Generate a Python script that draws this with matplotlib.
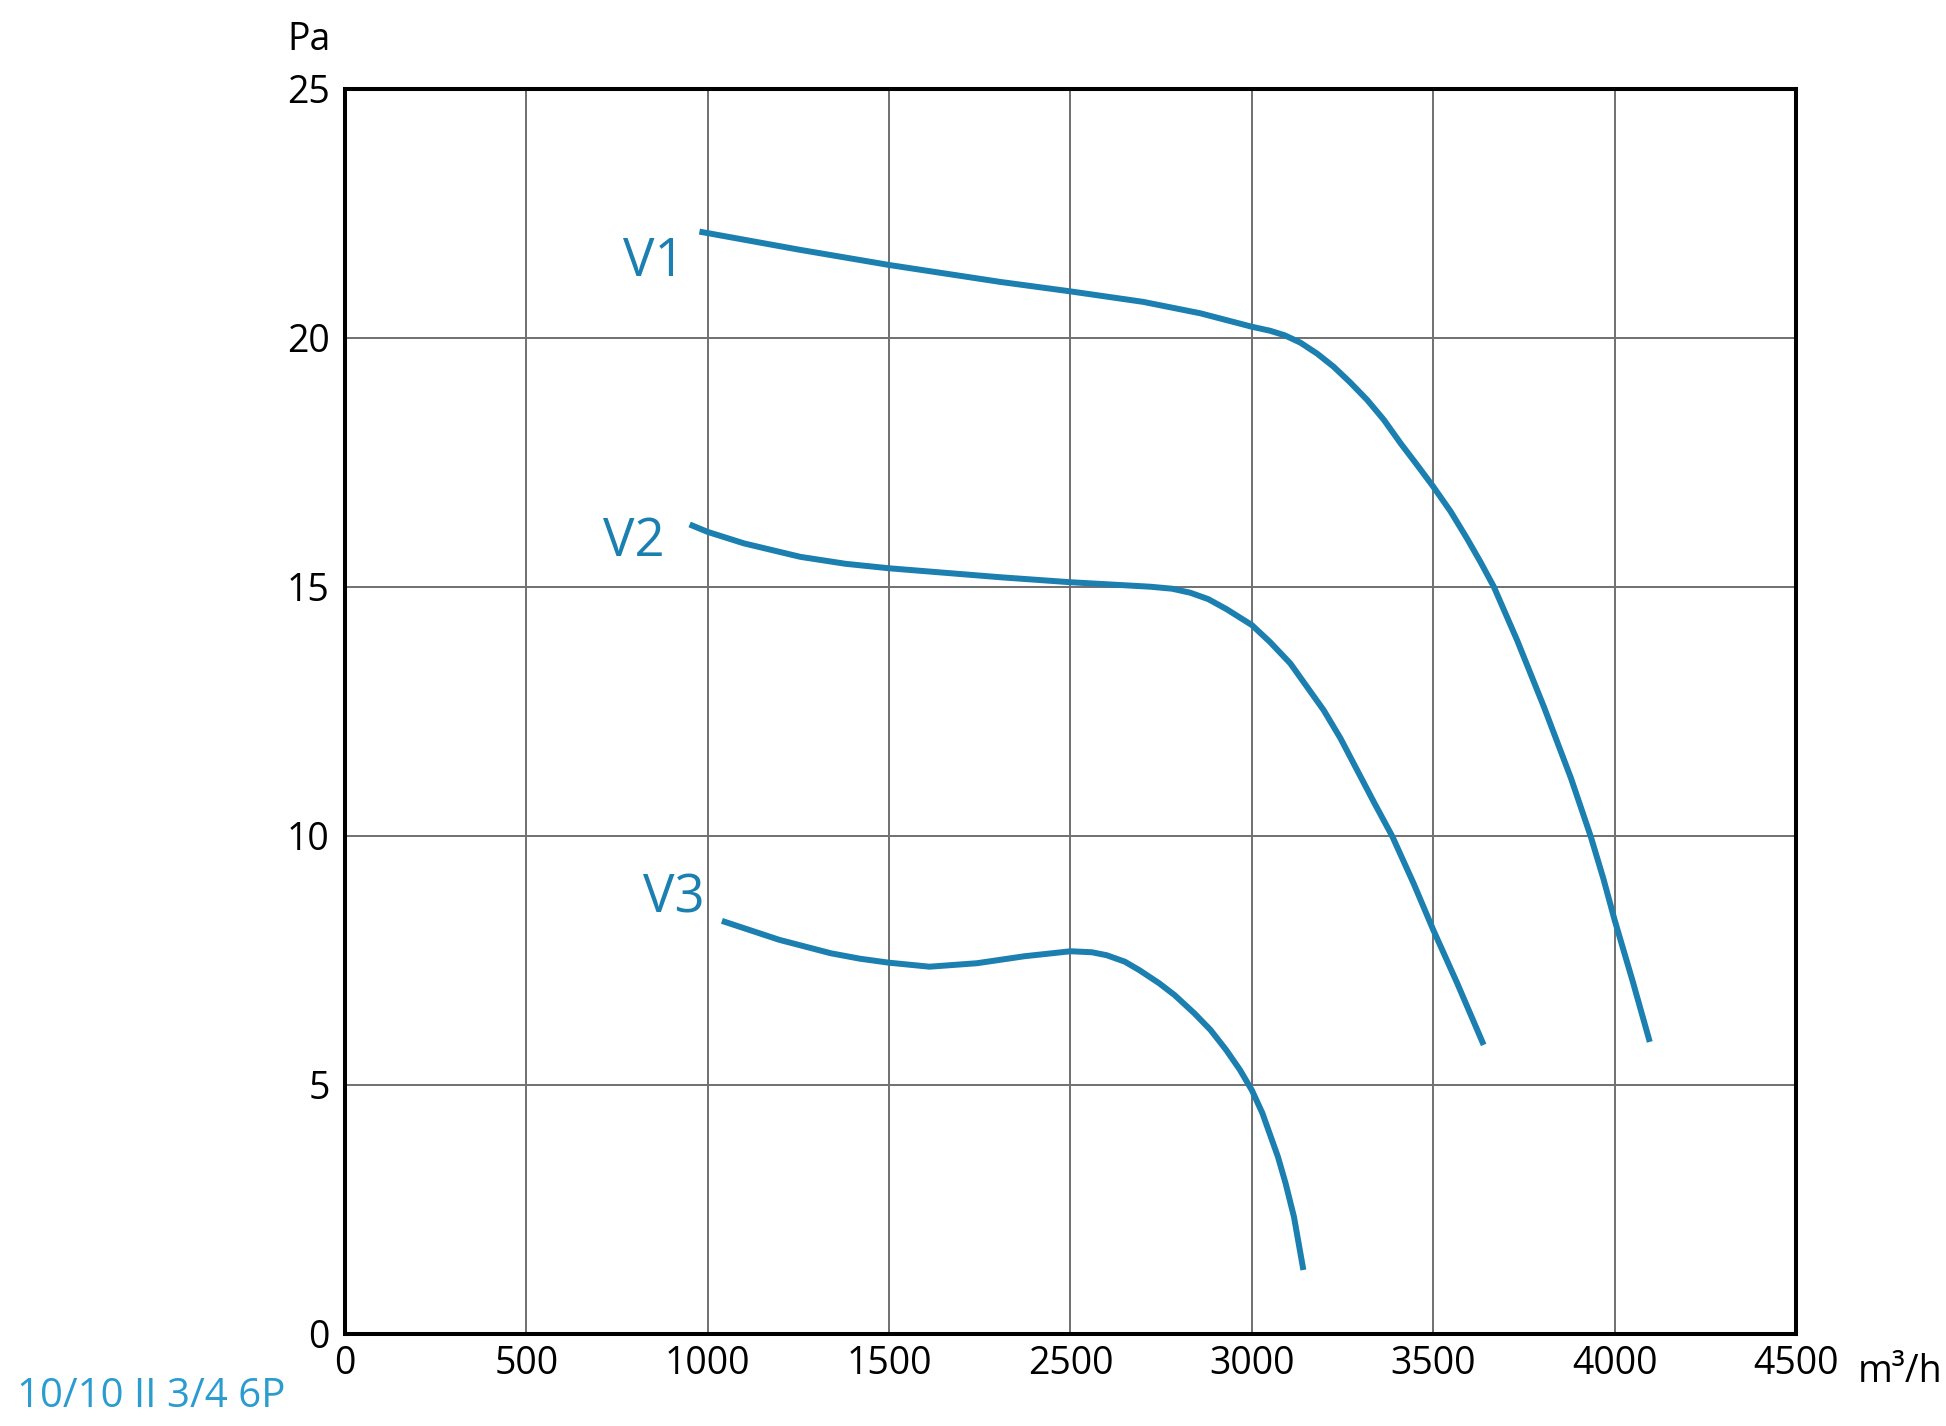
import matplotlib
matplotlib.use("Agg")
import matplotlib.pyplot as plt
import numpy as np

# ── data ───────────────────────────────────────────────────────────────────────
# the printed x labels skip 2000, so the grid is evenly spaced by label index
X_TICKS = [0, 500, 1000, 1500, 2500, 3000, 3500, 4000, 4500]
Y_TICKS = [0, 5, 10, 15, 20, 25]

v1_x = [977, 1000, 1250, 1500, 2113, 2500, 2700, 2858, 3000, 3050, 3090, 3134,
        3180, 3225, 3270, 3318, 3364, 3410, 3456, 3500, 3548, 3593, 3630, 3667,
        3731, 3768, 3805, 3880, 3934, 3969, 4000, 4049, 4097]
v1_y = [22.13, 22.10, 21.77, 21.46, 21.12, 20.93, 20.72, 20.49, 20.22, 20.14,
        20.05, 19.90, 19.68, 19.42, 19.11, 18.75, 18.35, 17.88, 17.44, 17.01,
        16.51, 15.97, 15.50, 15.00, 13.93, 13.26, 12.59, 11.15, 9.99, 9.14,
        8.31, 7.10, 5.86]

v2_x = [950, 1000, 1100, 1255, 1380, 1500, 2113, 2500, 2720, 2780, 2830, 2880,
        2930, 3000, 3050, 3106, 3152, 3198, 3244, 3290, 3336, 3387, 3446, 3500,
        3566, 3639]
v2_y = [16.25, 16.10, 15.87, 15.60, 15.46, 15.37, 15.19, 15.09, 15.00, 14.96,
        14.88, 14.75, 14.55, 14.23, 13.89, 13.46, 12.99, 12.52, 11.96, 11.32,
        10.68, 9.99, 9.04, 8.11, 7.04, 5.80]

v3_x = [1039, 1197, 1339, 1420, 1500, 1723, 1985, 2246, 2500, 2559, 2600, 2650,
        2690, 2744, 2787, 2842, 2886, 2929, 2967, 3000, 3029, 3049, 3072, 3093,
        3116, 3142]
v3_y = [8.29, 7.91, 7.64, 7.53, 7.45, 7.37, 7.44, 7.58, 7.68, 7.66, 7.60, 7.47,
        7.30, 7.04, 6.80, 6.43, 6.10, 5.70, 5.30, 4.89, 4.43, 4.02, 3.55, 3.02,
        2.35, 1.28]

curves = [("V1", v1_x, v1_y, (852, 21.52)),
          ("V2", v2_x, v2_y, (797, 15.89)),
          ("V3", v3_x, v3_y, (907, 8.73))]

MODEL_NAME = "10/10 II 3/4 6P"

# ── style ──────────────────────────────────────────────────────────────────────
FONT       = ["Open Sans", "DejaVu Sans"]
LINE_COLOR = "#1b7fb0"
NAME_COLOR = "#2b9cd0"
plt.rcParams["font.family"] = FONT

pos = np.arange(len(X_TICKS))
fwd = lambda v: np.interp(v, X_TICKS, pos)
inv = lambda p: np.interp(p, pos, X_TICKS)

fig = plt.figure(figsize=(19.46, 14.26), dpi=100)
ax = fig.add_axes([0.1773, 0.0647, 0.7456, 0.8731])
ax.set_xscale("function", functions=(fwd, inv))
ax.set_xlim(0, 4500)
ax.set_ylim(0, 25)

for name, xs, ys, (lx, ly) in curves:
    ax.plot(xs, ys, color=LINE_COLOR, lw=4.3, solid_capstyle="butt",
            solid_joinstyle="round")
    ax.text(lx, ly, name, color=LINE_COLOR, fontsize=38,
            ha="center", va="center")

ax.set_xticks(X_TICKS)
ax.set_xticklabels([str(t) for t in X_TICKS])
ax.set_yticks(Y_TICKS)
ax.tick_params(length=0, labelsize=27)
ax.tick_params(axis="x", pad=8)
ax.tick_params(axis="y", pad=11)
ax.grid(True, color="#707070", lw=1.4)
ax.set_axisbelow(True)
for s in ax.spines.values():
    s.set_linewidth(2.9)
    s.set_color("black")

fig.text(309 / 1946, 1 - 40 / 1426, "Pa", fontsize=27, ha="center", va="center")
fig.text(1858 / 1946, 1 - 1382 / 1426, "m³/h", fontsize=27,
         ha="left", va="baseline")
fig.text(17 / 1946, 1 - 1407 / 1426, MODEL_NAME, fontsize=29,
         color=NAME_COLOR, ha="left", va="baseline")

fig.savefig("out.png", dpi=100)
